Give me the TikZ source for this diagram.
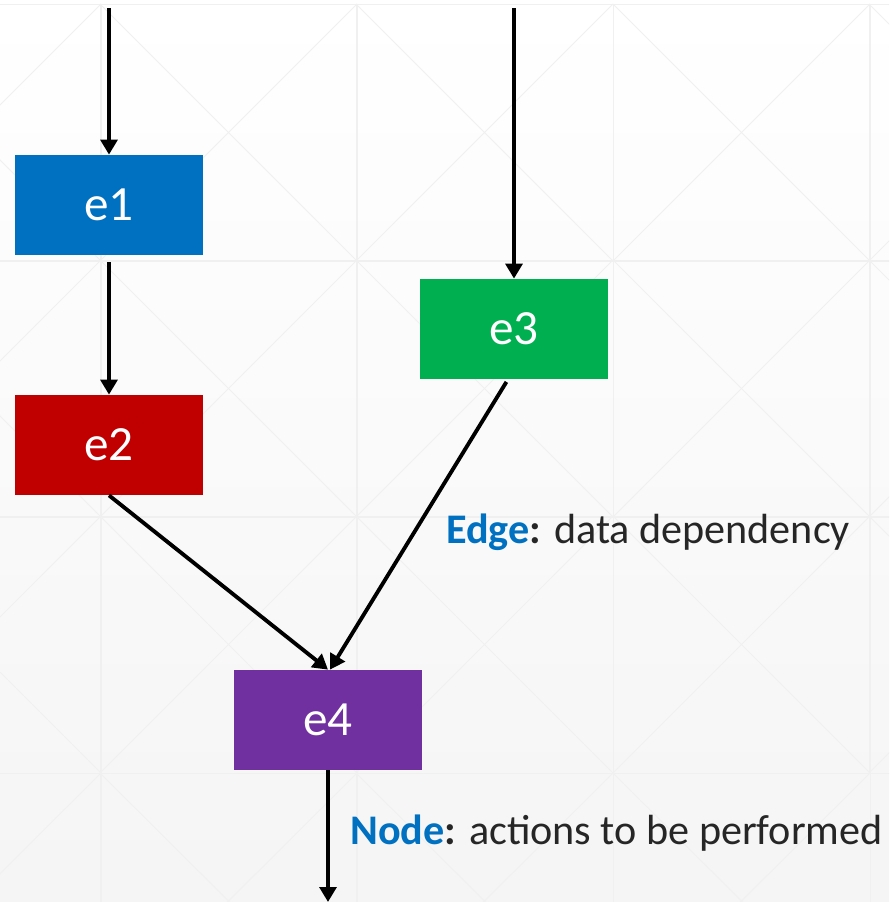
\documentclass[tikz,border=0pt]{standalone}
\usepackage{fontspec}
\setmainfont{Carlito}
\usepackage{xcolor}
\usetikzlibrary{arrows.meta,positioning}
\definecolor{eblue}{HTML}{0070C0}
\definecolor{ered}{HTML}{C00000}
\definecolor{egreen}{HTML}{00B050}
\definecolor{epurple}{HTML}{7030A0}
\definecolor{txtgray}{HTML}{262626}
\definecolor{gridgray}{HTML}{F0F0F0}
\begin{document}
\begin{tikzpicture}[font=\fontsize{24}{28}\selectfont,
  op/.style={draw=none,rectangle,minimum height=2.0cm,minimum width=3.76cm,text=white,
    font=\fontsize{28}{32}\selectfont},
  dep/.style={-{Triangle[length=8.5pt,width=9.5pt]},line width=2.2pt,black},
  lbl/.style={anchor=west,text=txtgray,inner sep=0pt},
]
  % background and faint grid
  \useasboundingbox (0,0) rectangle (17.78,-18.04);
  \shade[top color=white,bottom color=black!4] (0,0) rectangle (17.78,-18.04);
  \begin{scope}
    \clip (0,0) rectangle (17.78,-18.04);
    \foreach \x in {-3.12,2.0,7.12,12.26,17.38} {
      \foreach \y in {0.08,-5.22,-10.34,-15.46} {
        \draw[gridgray,line width=0.5pt] (\x,\y) rectangle ++(5.14,5.14);
        \draw[gridgray,line width=0.5pt] (\x,\y) -- ++(5.14,5.14);
        \draw[gridgray,line width=0.5pt] (\x,\y) ++(0,5.14) -- ++(5.14,-5.14);
      }
    }
    \foreach \x in {-3.12,2.0,7.12,12.26} {
      \draw[gridgray,line width=0.5pt] (\x,-20.58) rectangle ++(5.14,5.12);
      \draw[gridgray,line width=0.5pt] (\x,-20.58) -- ++(5.14,5.12);
      \draw[gridgray,line width=0.5pt] (\x,-15.46) -- ++(5.14,-5.12);
    }
  \end{scope}

  % operations
  \node[op,fill=eblue] (e1) at (2.18,-4.10) {e1};
  \node[op,fill=ered] (e2) at (2.18,-8.90) {e2};
  \node[op,fill=egreen] (e3) at (10.28,-6.58) {e3};
  \node[op,fill=epurple] (e4) at (6.56,-14.40) {e4};

  \coordinate (in1) at (2.18,-0.16);
  \coordinate (in3) at (10.28,-0.16);
  \coordinate (out4) at (6.56,-18.04);

  \draw[dep] (in1) -- (e1.north);
  \draw[dep,shorten <=0.14cm] (e1.south) -- (e2.north);
  \draw[dep] (in3) -- (e3.north);
  \draw[dep] (e2.south) -- (e4.north);
  \draw[dep,shorten <=0.06cm] ([xshift=-0.12cm]e3.south) -- ([xshift=0.04cm]e4.north);
  \draw[dep] (e4.south) -- (out4);

  % captions
  \node[lbl] (edgelbl) at (8.92,-10.64) {\textbf{\textcolor{eblue}{Edge}:} data dependency};
  \node[lbl] (nodelbl) at (7.00,-16.66) {\textbf{\textcolor{eblue}{Node}:} actions to be performed};
\end{tikzpicture}
\end{document}
